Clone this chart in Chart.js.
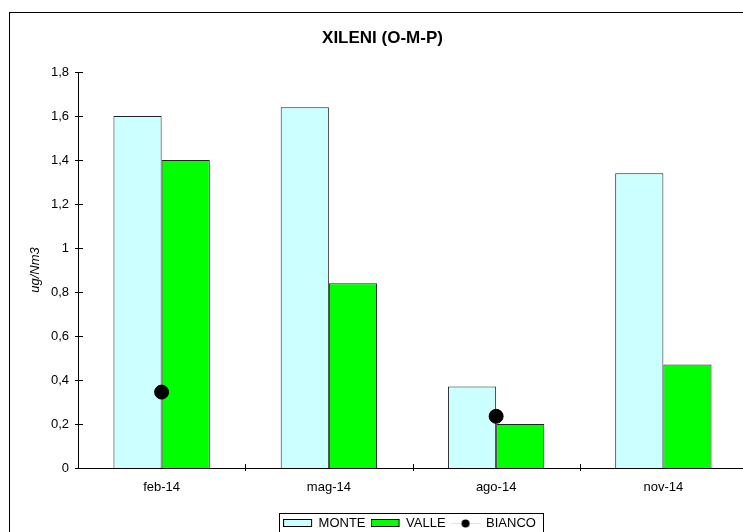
<!DOCTYPE html>
<html>
<head>
<meta charset="utf-8">
<script src="https://cdn.jsdelivr.net/npm/chart.js@4.4.1/dist/chart.umd.min.js"></script>
<style>
  html, body { margin: 0; padding: 0; background: #fff; overflow: hidden; }
  #frame { position: absolute; left: 9px; top: 12px; border: 1px solid #000; background: #fff; }
  canvas { display: block; }
</style>
</head>
<body>
<div id="frame"><canvas id="chart" width="800" height="545"></canvas></div>
<script>
// values
const categories = ["feb-14", "mag-14", "ago-14", "nov-14"];
const monte = [1.60, 1.64, 0.37, 1.34];
const valle = [1.40, 0.84, 0.20, 0.47];
const bianco = [0.345, null, 0.235, null];
const yMin = 0, yMax = 1.8, yStep = 0.2;

Chart.defaults.font.family = "'Liberation Sans', Arial, sans-serif";
Chart.defaults.color = "#000";

// little pictures for the legend keys
function symbol(draw) {
  const c = document.createElement("canvas");
  c.width = 30;
  c.height = 10;
  draw(c.getContext("2d"));
  return c;
}
const keys = [
  symbol(g => { g.fillStyle = "#CCFFFF"; g.fillRect(0.5, 1.5, 28, 7); g.strokeStyle = "#000"; g.strokeRect(0.5, 1.5, 28, 7); }),
  symbol(g => { g.fillStyle = "#00FF00"; g.fillRect(0.5, 1.5, 28, 7); g.strokeStyle = "#000"; g.strokeRect(0.5, 1.5, 28, 7); }),
  symbol(g => {
    g.strokeStyle = "#FFFF00"; g.beginPath(); g.moveTo(0, 5.5); g.lineTo(30, 5.5); g.stroke();
    g.fillStyle = "#000"; g.beginPath(); g.arc(15, 5.5, 4, 0, Math.PI * 2); g.fill();
  }),
];

// cross ticks on both axes, the box round the legend, title moved left like the original
const extras = {
  id: "extras",
  afterLayout(chart) {
    chart.titleBlock.left -= 27.5;
    chart.titleBlock.right -= 27.5;
  },
  afterDraw(chart) {
    const ctx = chart.ctx, x = chart.scales.x, y = chart.scales.y;
    ctx.save();
    ctx.strokeStyle = "#000";
    ctx.lineWidth = 1;
    ctx.beginPath();
    y.ticks.forEach(t => {
      const py = Math.round(y.getPixelForValue(t.value)) + 0.5;
      ctx.moveTo(x.left - 3, py);
      ctx.lineTo(x.left + 5, py);
    });
    const w = (x.right - x.left) / categories.length;
    for (let i = 1; i <= categories.length; i++) {
      const px = Math.round(x.left + i * w) + 0.5;
      ctx.moveTo(px, y.bottom - 4);
      ctx.lineTo(px, y.bottom + 3);
    }
    ctx.stroke();
    const hb = chart.legend.legendHitBoxes;
    if (hb.length) {
      const last = hb[hb.length - 1];
      const l = Math.round(hb[0].left - 5) + 0.5;
      const r = Math.round(last.left + last.width + 7) + 0.5;
      const t = Math.round(hb[0].top - 4) + 0.5;
      ctx.strokeRect(l, t, r - l, 21);
    }
    ctx.restore();
  }
};

new Chart(document.getElementById("chart"), {
  type: "bar",
  data: {
    labels: categories,
    datasets: [
      {
        label: "MONTE",
        data: monte,
        backgroundColor: "#CCFFFF",
        borderColor: "#222",
        borderWidth: 1,
        categoryPercentage: 0.576,
        barPercentage: 1,
        order: 1,
      },
      {
        label: "VALLE",
        data: valle,
        backgroundColor: "#00FF00",
        borderColor: "#222",
        borderWidth: 1,
        categoryPercentage: 0.576,
        barPercentage: 1,
        order: 1,
      },
      {
        type: "line",
        label: "BIANCO",
        data: bianco,
        borderColor: "#FFFF00",
        borderWidth: 1,
        backgroundColor: "#000",
        pointBackgroundColor: "#000",
        pointBorderColor: "#000",
        pointRadius: 7,
        spanGaps: false,
        order: 0,
      },
    ],
  },
  options: {
    responsive: false,
    animation: false,
    devicePixelRatio: 1,
    layout: { padding: { left: 0, right: 0, top: 0, bottom: 18.5 } },
    plugins: {
      tooltip: { enabled: false },
      title: {
        display: true,
        text: "XILENI (O-M-P)",
        font: { size: 17, weight: "bold" },
        padding: { top: 15.3, bottom: 23.3 },
      },
      legend: {
        position: "bottom",
        labels: {
          font: { size: 13 },
          padding: 6,
          usePointStyle: true,
          pointStyleWidth: 28,
          sort: (a, b) => a.datasetIndex - b.datasetIndex,
          generateLabels: chart =>
            Chart.defaults.plugins.legend.labels.generateLabels(chart)
              .map(l => ({ ...l, pointStyle: keys[l.datasetIndex] })),
        },
      },
    },
    scales: {
      x: {
        grid: { display: false },
        border: { color: "#000" },
        ticks: { font: { size: 13 }, padding: 4 },
        afterFit: s => { s.height = 42.5; },
      },
      y: {
        min: yMin,
        max: yMax,
        grid: { display: false, drawTicks: false },
        border: { color: "#000" },
        ticks: {
          stepSize: yStep,
          font: { size: 13 },
          padding: 9,
          callback: v => String(+v.toFixed(1)).replace(".", ","),
        },
        title: {
          display: true,
          text: "ug/Nm3",
          font: { size: 13, style: "italic" },
          padding: { top: 18, bottom: 0 },
        },
        afterFit: s => { s.width = 68; },
      },
      pad: {
        position: "right",
        display: true,
        grid: { display: false },
        border: { display: false },
        ticks: { display: false },
        afterFit: s => { s.width = 63; },
      },
    },
  },
  plugins: [extras],
});
</script>
</body>
</html>
